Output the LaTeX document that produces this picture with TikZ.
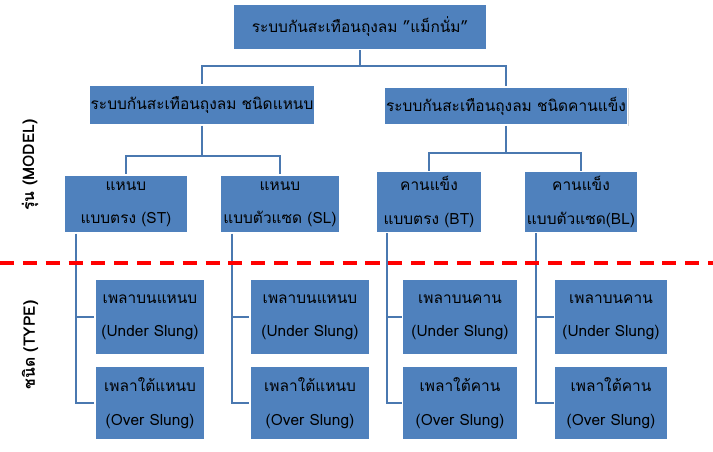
\documentclass[tikz,border=0pt]{standalone}
\usepackage{fontspec}
\newfontfamily\thaifont[Script=Thai]{Loma}
\usetikzlibrary{shadows}

\tikzset{
  box/.style={draw=white, line width=0.8pt, fill={rgb,255:red,79;green,129;blue,189},
              font=\thaifont\fontsize{8.8}{10}\selectfont, align=center, inner sep=1pt,
              drop shadow={shadow xshift=0.5pt, shadow yshift=-0.5pt, opacity=0.3}},
  link/.style={draw={rgb,255:red,74;green,120;blue,176}, line width=1.2pt},
  side/.style={font=\thaifont\small\bfseries, rotate=90}
}

\begin{document}
\begin{tikzpicture}[x=0.02cm,y=-0.02cm]
  \useasboundingbox (0,0) rectangle (713,452);

  % top level
  \node[box, minimum width=5.08cm, minimum height=0.9cm] (top) at (360,27) {ระบบกันสะเทือนถุงลม ”แม็กนั่ม”};
  \node[box, minimum width=4.3cm, minimum height=0.8cm] (strap) at (202,105) {ระบบกันสะเทือนถุงลม ชนิดแหนบ};
  \node[box, minimum width=4.64cm, minimum height=0.76cm] (beam) at (506,106) {ระบบกันสะเทือนถุงลม ชนิดคานแข็ง};

  % model level
  \node[box, minimum width=2.48cm, minimum height=1.16cm] (st) at (126,204) {แหนบ\\[9pt]แบบตรง (ST)};
  \node[box, minimum width=2.38cm, minimum height=1.16cm] (sl) at (280,204) {แหนบ\\[9pt]แบบตัวแซด (SL)};
  \node[box, minimum width=2.1cm, minimum height=1.22cm] (bt) at (429,202) {คานแข็ง\\[9pt]แบบตรง (BT)};
  \node[box, minimum width=2.28cm, minimum height=1.22cm] (bl) at (581,202) {คานแข็ง\\[9pt]แบบตัวแซด(BL)};

  % type level
  \node[box, minimum width=2.2cm, minimum height=1.5cm] (st1) at (150,317) {เพลาบนแหนบ\\[9pt](Under Slung)};
  \node[box, minimum width=2.2cm, minimum height=1.46cm] (st2) at (150,403) {เพลาใต้แหนบ\\[9pt](Over Slung)};
  \node[box, minimum width=2.4cm, minimum height=1.5cm] (sl1) at (310,317) {เพลาบนแหนบ\\[9pt](Under Slung)};
  \node[box, minimum width=2.4cm, minimum height=1.46cm] (sl2) at (310,403) {เพลาใต้แหนบ\\[9pt](Over Slung)};
  \node[box, minimum width=2.3cm, minimum height=1.5cm] (bt1) at (460,317) {เพลาบนคาน\\[9pt](Under Slung)};
  \node[box, minimum width=2.3cm, minimum height=1.46cm] (bt2) at (460,403) {เพลาใต้คาน\\[9pt](Over Slung)};
  \node[box, minimum width=2.26cm, minimum height=1.5cm] (bl1) at (611,317) {เพลาบนคาน\\[9pt](Under Slung)};
  \node[box, minimum width=2.26cm, minimum height=1.46cm] (bl2) at (611,403) {เพลาใต้คาน\\[9pt](Over Slung)};

  % tree links
  \draw[link] (top.south) -- ++(0,16) -| (strap.north);
  \draw[link] (top.south) ++(0,16) -| (beam.north);
  \draw[link] (strap.south) -- ++(0,30) -| (st.north);
  \draw[link] (strap.south) ++(0,30) -| (sl.north);
  \draw[link] (beam.south) -- ++(0,27) -| (bt.north);
  \draw[link] (beam.south) ++(0,27) -| (bl.north);

  % trunks to types
  \draw[link] (st.south -| 76,0) |- (st2.west);  \draw[link] (76,317) -- (st1.west);
  \draw[link] (sl.south -| 232,0) |- (sl2.west); \draw[link] (232,317) -- (sl1.west);
  \draw[link] (bt.south -| 387,0) |- (bt2.west); \draw[link] (387,317) -- (bt1.west);
  \draw[link] (bl.south -| 536,0) |- (bl2.west); \draw[link] (536,317) -- (bl1.west);

  % divider and side labels
  \draw[red, dashed, line width=2pt, dash pattern=on 8pt off 5pt] (0,263) -- (713,263);
  \node[side] (model) at (30,165) {รุ่น (MODEL)};
  \node[side] (type) at (30,345) {ชนิด (TYPE)};
\end{tikzpicture}
\end{document}
